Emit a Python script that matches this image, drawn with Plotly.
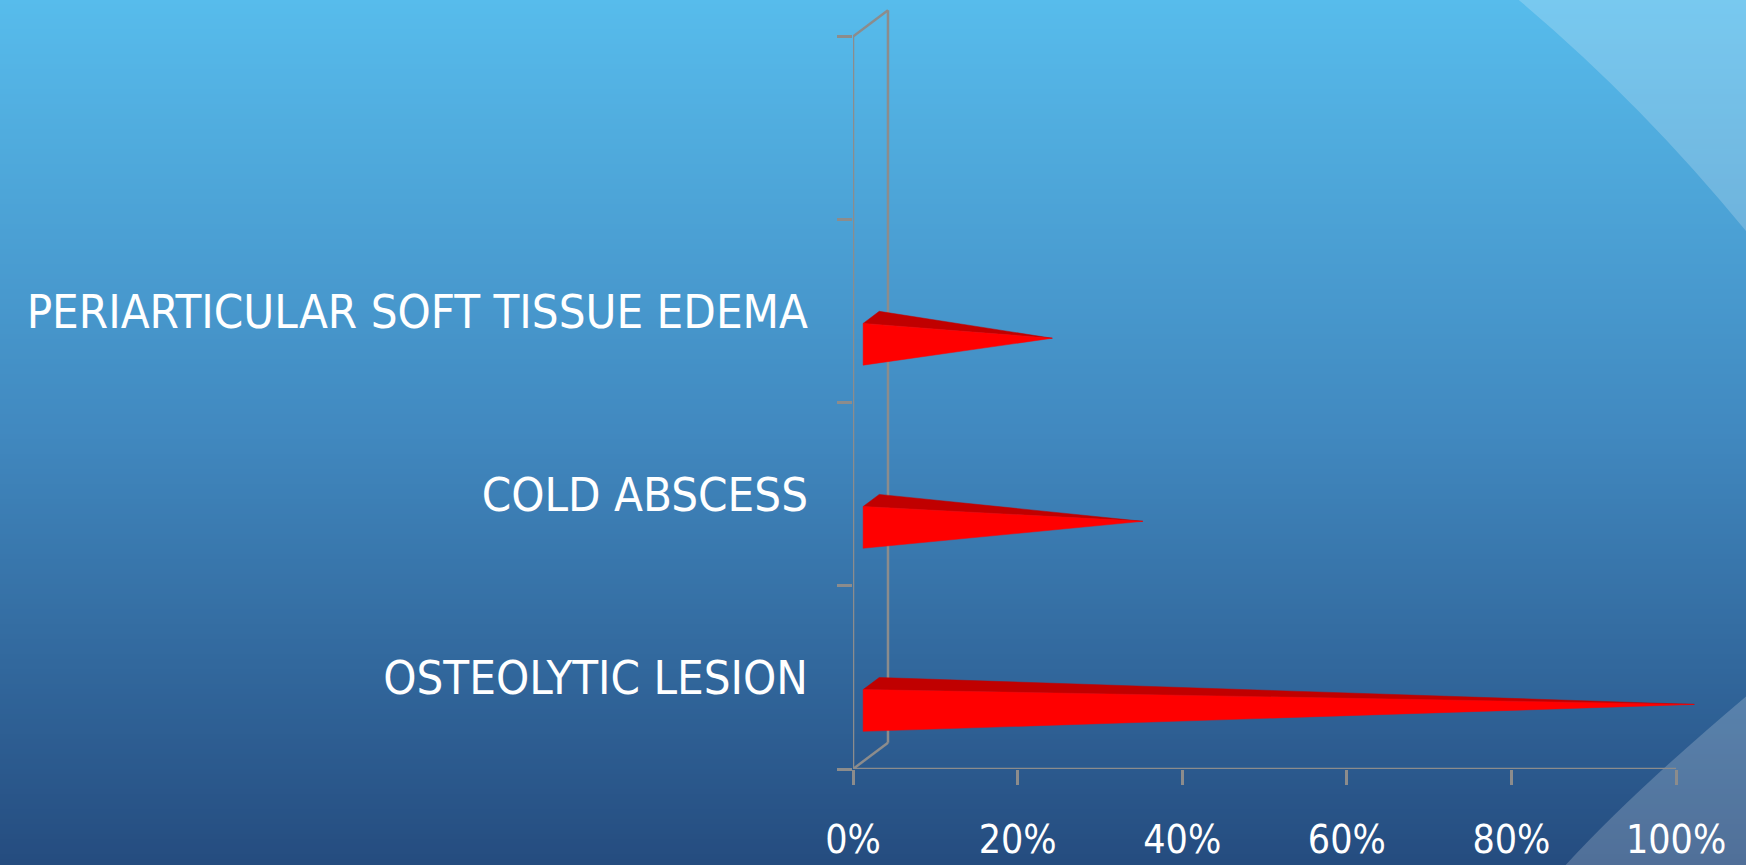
import plotly.graph_objects as go

# ---- data -------------------------------------------------------------
categories = ["OSTEOLYTIC LESION", "COLD ABSCESS", "PERIARTICULAR SOFT TISSUE EDEMA"]
values = [100, 33, 22]                  # percent
x_ticks = [0, 20, 40, 60, 80, 100]
n_slots = 4                             # category slots on the axis (top one left empty)

# ---- styling ----------------------------------------------------------
FONT = "DejaVu Sans Condensed, Liberation Sans Narrow, sans-serif"
GRAY = "#8C8C8C"
RED_FRONT = "#FF0000"
RED_TOP = "#C00000"

W, H = 1746, 865
M_L, M_R, M_T, M_B = 853, 37, 0, 96
X_MAX = 104
Y_MIN, Y_MAX = -0.5, 3.7

# pseudo-3D depth of the chart box
DX = 4.25        # shift of the back wall along x (percent units)
DY = 0.1436      # shift of the back wall along y (category units)
F_FRONT, F_BACK = 0.29, 0.75
BAR_HALF = 0.114
BAR_SHIFT = -0.222


def proj(x, y, d):
    """Project a point at depth fraction d onto the 2D plane."""
    return x + d * DX, y + d * DY


fig = go.Figure()

# ---- pyramid bars -----------------------------------------------------
for i, v in enumerate(values):
    yb = i + BAR_SHIFT
    apex = proj(v, yb, (F_FRONT + F_BACK) / 2)
    ftl = proj(0, yb + BAR_HALF, F_FRONT)
    fbl = proj(0, yb - BAR_HALF, F_FRONT)
    btl = proj(0, yb + BAR_HALF, F_BACK)
    for pts, col in (([ftl, btl, apex], RED_TOP), ([fbl, ftl, apex], RED_FRONT)):
        fig.add_trace(go.Scatter(
            x=[p[0] for p in pts] + [pts[0][0]],
            y=[p[1] for p in pts] + [pts[0][1]],
            mode="lines", fill="toself", fillcolor=col,
            line=dict(color=col, width=0.5),
            hoverinfo="skip", showlegend=False,
        ))

# ---- background: vertical gradient + light arcs -----------------------
PW = W - M_L - M_R
PH = H - M_T - M_B


def to_paper(px, py):
    return (px - M_L) / PW, (M_T + PH - py) / PH


stops = [(0, (87, 188, 236)), (430, (65, 137, 192)), (865, (37, 76, 127))]


def grad(py):
    for (y0, c0), (y1, c1) in zip(stops[:-1], stops[1:]):
        if py <= y1:
            t = (py - y0) / (y1 - y0)
            return tuple(round(a + (b - a) * t) for a, b in zip(c0, c1))
    return stops[-1][1]


shapes = []
STEP = 5
for py in range(0, H, STEP):
    x0, y0 = to_paper(-2, py - 1)
    x1, y1 = to_paper(W + 2, py + STEP + 1)
    r, g, b = grad(py + STEP / 2)
    shapes.append(dict(type="rect", xref="paper", yref="paper",
                       x0=x0, x1=x1, y0=y1, y1=y0,
                       fillcolor=f"rgb({r},{g},{b})", line=dict(width=0),
                       layer="below"))


def path_from(points):
    cmds = []
    for cmd, pts in points:
        coords = " ".join(f"{to_paper(px, py)[0]:.5f},{to_paper(px, py)[1]:.5f}" for px, py in pts)
        cmds.append(f"{cmd} {coords}")
    return " ".join(cmds) + " Z"


arc_top = path_from([("M", [(1514, -4)]), ("Q", [(1642, 103), (1750, 236)]),
                     ("L", [(1750, -4)])])
arc_bot = path_from([("M", [(1750, 693)]), ("Q", [(1629, 795), (1562, 869)]),
                     ("L", [(1750, 869)])])
for p in (arc_top, arc_bot):
    shapes.append(dict(type="path", xref="paper", yref="paper", path=p,
                       fillcolor="rgba(255,255,255,0.2)", line=dict(width=0),
                       layer="below"))

# ---- 3D axis frame -----------------------------------------------------
y_lo, y_hi = -0.5, n_slots - 0.5
frame = [
    (proj(0, y_lo, 0), proj(0, y_hi, 0)),        # front vertical axis
    (proj(0, y_lo, 1), proj(0, y_hi, 1)),        # back wall edge
    (proj(0, y_hi, 0), proj(0, y_hi, 1)),        # top depth edge
    (proj(0, y_lo, 0), proj(0, y_lo, 1)),        # bottom depth edge
    (proj(0, y_lo, 0), proj(x_ticks[-1], y_lo, 0)),  # value axis
]
for (xa, ya), (xb, yb) in frame:
    shapes.append(dict(type="line", xref="x", yref="y", x0=xa, y0=ya, x1=xb, y1=yb,
                       line=dict(color=GRAY, width=2.5), layer="below"))

boundaries = [k - 0.5 for k in range(n_slots + 1)]

fig.update_layout(
    width=W, height=H,
    margin=dict(l=M_L, r=M_R, t=M_T, b=M_B, pad=0, autoexpand=False),
    paper_bgcolor="rgb(65,137,192)",
    plot_bgcolor="rgba(0,0,0,0)",
    showlegend=False,
    shapes=shapes,
    xaxis=dict(
        range=[0, X_MAX], showgrid=False, zeroline=False, showline=False,
        automargin=False,
        tickmode="array", tickvals=x_ticks, ticktext=[f"{t}%" for t in x_ticks],
        ticks="outside", ticklen=15, tickwidth=2.5, tickcolor=GRAY,
        tickfont=dict(family=FONT, size=39, color="white"),
        ticklabelstandoff=21, fixedrange=True,
    ),
    yaxis=dict(
        range=[Y_MIN, Y_MAX], showgrid=False, zeroline=False, showline=False,
        automargin=False,
        tickmode="array", tickvals=list(range(len(categories))), ticktext=categories,
        ticks="", ticklen=0,
        minor=dict(tickmode="array", tickvals=boundaries, ticks="outside",
                   ticklen=15, tickwidth=2.5, tickcolor=GRAY, showgrid=False),
        tickfont=dict(family=FONT, size=47, color="white"),
        ticklabelstandoff=44, fixedrange=True,
    ),
)

fig.write_html("out.html", config={"displayModeBar": False})
